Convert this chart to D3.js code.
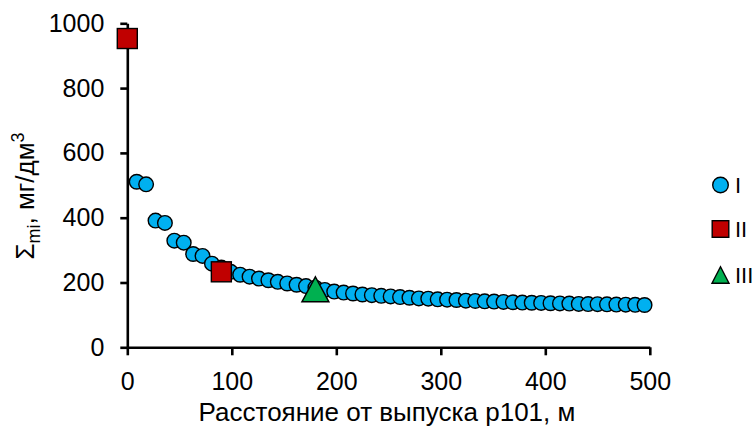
<!DOCTYPE html>
<html>
<head>
<meta charset="utf-8">
<script src="https://cdn.jsdelivr.net/npm/d3@7"></script>
<style>
  html, body { margin: 0; padding: 0; background: #ffffff; }
  svg { display: block; }
  text { font-family: "Liberation Sans", Arial, sans-serif; fill: #000; }
</style>
</head>
<body>
<script>
// ---------- data ----------
const seriesIx = [9, 18, 27, 36, 45, 54, 63, 72, 81, 90, 99, 108, 117, 126, 135, 144, 153, 162, 171, 180,
  189, 198, 207, 216, 225, 234, 243, 252, 261, 270, 279, 288, 297, 306, 315, 324, 333, 342, 351, 360,
  369, 378, 387, 396, 405, 414, 423, 432, 441, 450, 459, 468, 477, 486, 495];
const seriesIy = [511, 503, 391, 384, 329, 323, 288, 282, 258, 246, 233, 224, 218, 212, 207, 202, 197, 193, 189, 184,
  177, 172, 169, 166, 163, 161, 159, 157, 155, 153, 151, 150, 148, 147, 146, 144, 143, 142, 141, 140,
  139, 138, 137.5, 137, 136, 135.5, 135, 134, 133.5, 133, 132.5, 132, 131.5, 131, 130.5];
const seriesIIx = [0, 90];
const seriesIIy = [953, 233];
const seriesIIIx = [180];
const seriesIIIy = [179];
const xTicks = [0, 100, 200, 300, 400, 500];
const yTicks = [0, 200, 400, 600, 800, 1000];
const legendLabels = ["I", "II", "III"];
const xTitle = "Расстояние от выпуска р101, м";

// ---------- layout ----------
const W = 755, H = 430;
const svg = d3.select("body").append("svg").attr("width", W).attr("height", H);
svg.append("rect").attr("width", W).attr("height", H).attr("fill", "#fff");

const x = d3.scaleLinear().domain([0, 500]).range([127.3, 649.8]);
const y = d3.scaleLinear().domain([0, 1000]).range([347.3, 23.3]);

const blue = "#00B0F0", red = "#C00000", green = "#00B050";
const fmt = d3.format("d");

// axes
const xAxis = svg.append("g").attr("transform", `translate(0,${y(0)})`)
  .call(d3.axisBottom(x).tickValues(xTicks).tickFormat(fmt).tickSize(8).tickSizeOuter(0).tickPadding(17));
const yAxis = svg.append("g").attr("transform", `translate(${x(0)},0)`)
  .call(d3.axisLeft(y).tickValues(yTicks).tickFormat(fmt).tickSize(7).tickSizeOuter(0).tickPadding(16));
[xAxis, yAxis].forEach(g => {
  g.selectAll("path.domain").attr("stroke", "#000").attr("stroke-width", 2.6);
  g.selectAll(".tick line").attr("stroke", "#000").attr("stroke-width", 2.6);
  g.selectAll(".tick text").attr("font-family", "Liberation Sans, Arial, sans-serif")
    .attr("font-size", 25).attr("fill", "#000");
});

// axis titles
svg.append("text").attr("x", 387).attr("y", 421)
  .attr("text-anchor", "middle").attr("font-size", 26).text(xTitle);

const yt = svg.append("text").attr("transform", "translate(34,196) rotate(-90)")
  .attr("text-anchor", "middle").attr("font-size", 26);
yt.append("tspan").text("Σ");
yt.append("tspan").attr("font-size", 18).attr("dy", 6).text("mi");
yt.append("tspan").attr("dy", -6).text(", мг/дм");
yt.append("tspan").attr("font-size", 18).attr("dy", -10).text("3");

// markers
function triPath(cx, cy, w, h) {
  return `M${cx},${cy - h / 2}L${cx + w / 2},${cy + h / 2}L${cx - w / 2},${cy + h / 2}Z`;
}

const ptsI = seriesIx.map((d, i) => [d, seriesIy[i]]);
svg.append("g").selectAll("circle").data(ptsI).join("circle")
  .attr("cx", d => x(d[0])).attr("cy", d => y(d[1])).attr("r", 7.3)
  .attr("fill", blue).attr("stroke", "#000").attr("stroke-width", 1.4);

const ptsII = seriesIIx.map((d, i) => [d, seriesIIy[i]]);
const sq = 20;
svg.append("g").selectAll("rect").data(ptsII).join("rect")
  .attr("x", d => x(d[0]) - sq / 2).attr("y", d => y(d[1]) - sq / 2)
  .attr("width", sq).attr("height", sq)
  .attr("fill", red).attr("stroke", "#000").attr("stroke-width", 1.4);

const ptsIII = seriesIIIx.map((d, i) => [d, seriesIIIy[i]]);
svg.append("g").selectAll("path").data(ptsIII).join("path")
  .attr("d", d => triPath(x(d[0]), y(d[1]), 27, 25))
  .attr("fill", green).attr("stroke", "#000").attr("stroke-width", 1.4);

// legend
const lg = svg.append("g");
const lx = 720.5, ly = [185, 229, 275];
lg.append("circle").attr("cx", lx).attr("cy", ly[0]).attr("r", 7.8)
  .attr("fill", blue).attr("stroke", "#000").attr("stroke-width", 1.4);
lg.append("rect").attr("x", lx - 8.3).attr("y", ly[1] - 8.3).attr("width", 16.6).attr("height", 16.6)
  .attr("fill", red).attr("stroke", "#000").attr("stroke-width", 1.4);
lg.append("path").attr("d", triPath(lx, ly[2], 17, 16.5))
  .attr("fill", green).attr("stroke", "#000").attr("stroke-width", 1.4);
lg.selectAll("text").data(legendLabels).join("text")
  .attr("x", 735).attr("y", (d, i) => ly[i] + 8)
  .attr("font-size", 22).text(d => d);
</script>
</body>
</html>
